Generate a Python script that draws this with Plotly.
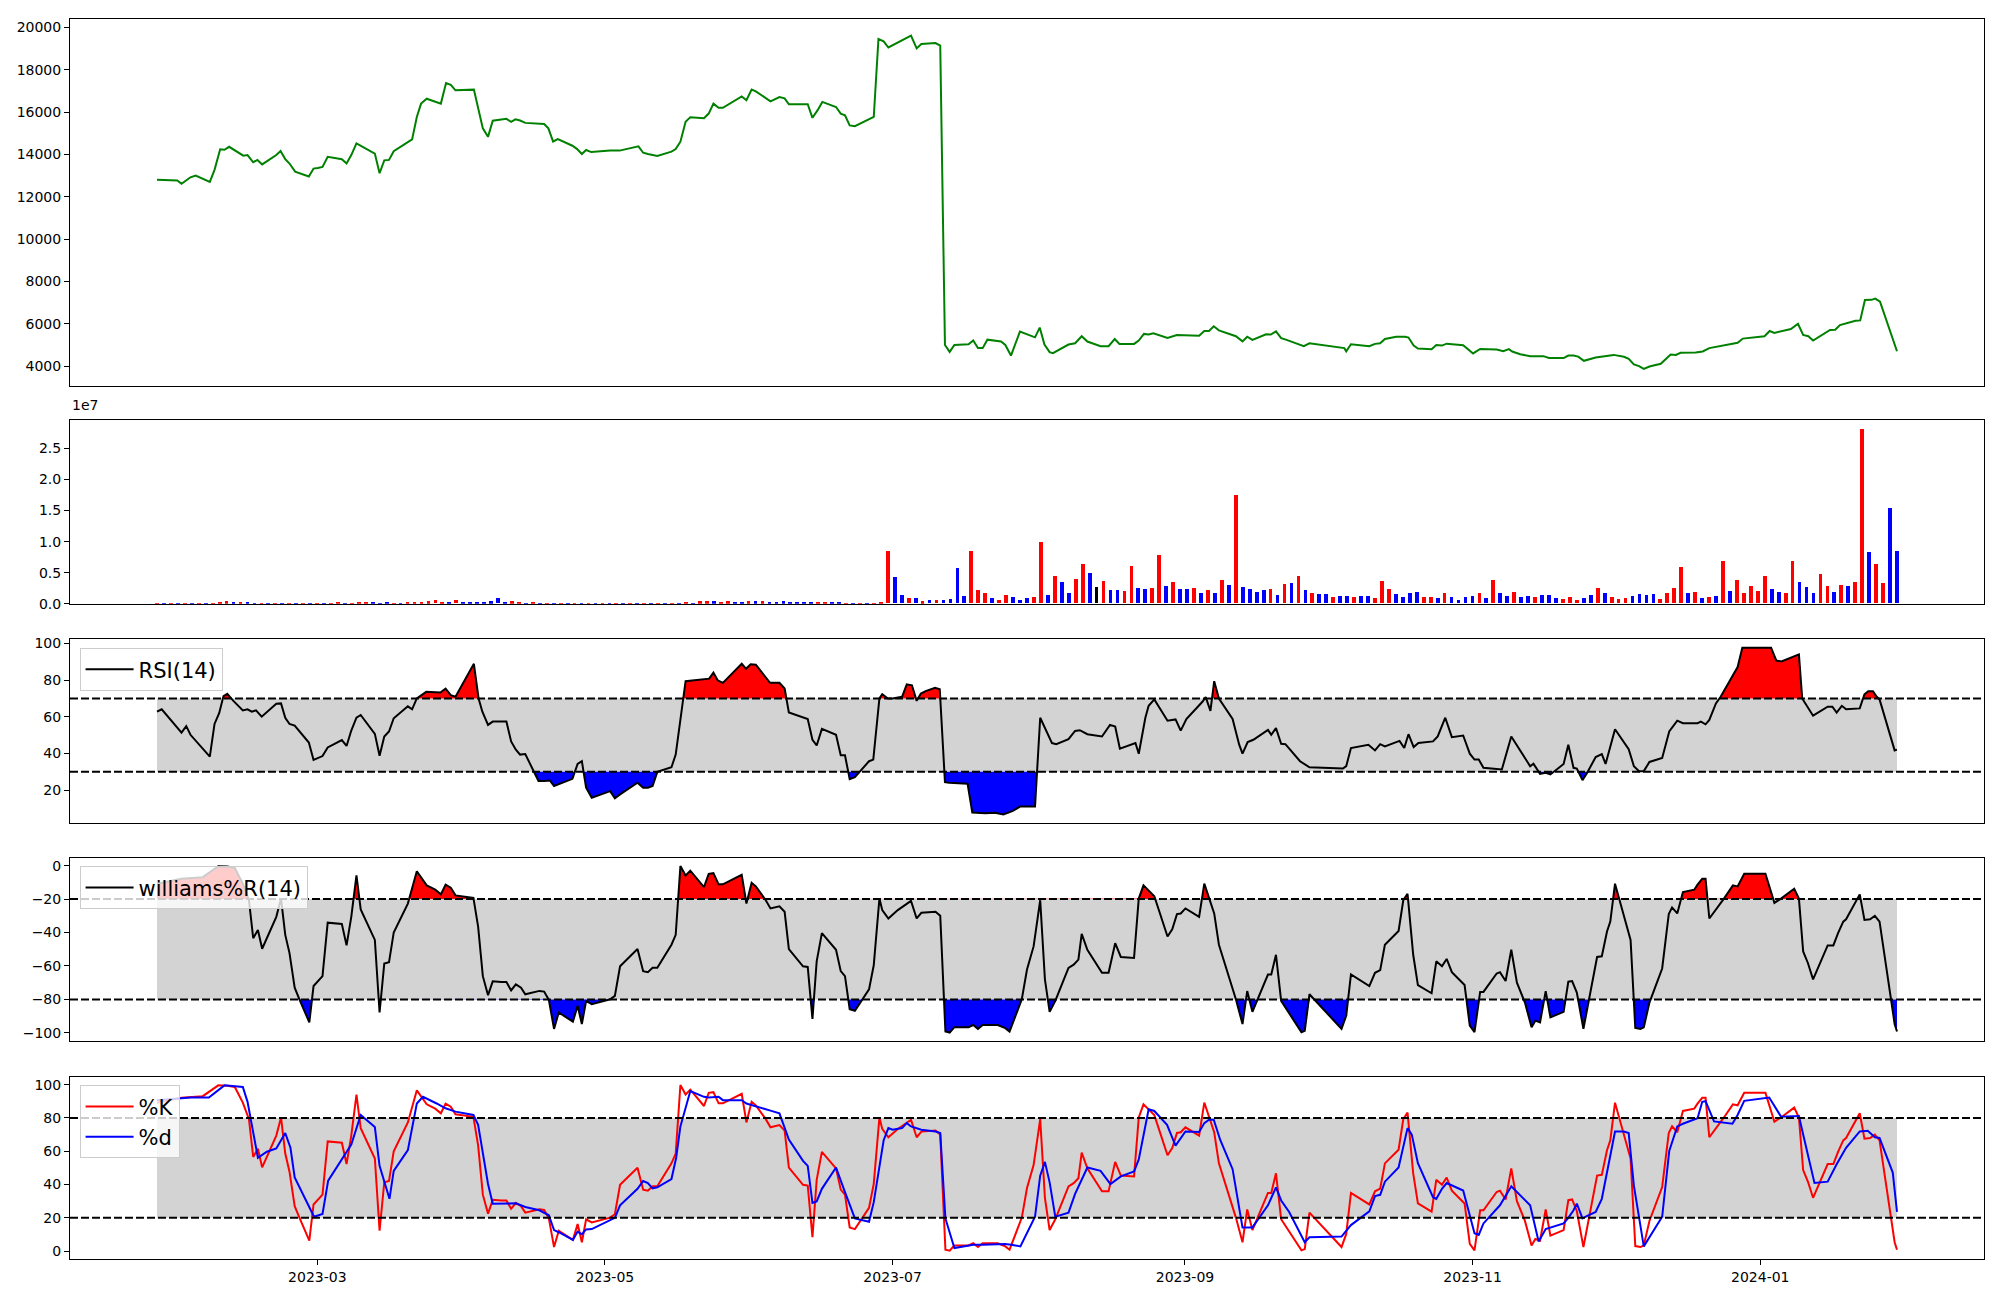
import numpy as np
import pandas as pd
import plotly.graph_objects as go
from plotly.subplots import make_subplots

# ---------------- DATA ----------------
START = "2023-01-26"
END = "2024-01-30"

# price (days since START, close)
price_days = [0.0, 4.3, 5.2, 7.1, 8.2, 11.2, 12.2, 13.4, 14.3, 15.3, 18.3, 19.2, 20.4, 21.3, 22.3, 25.3, 26.2, 27.2, 28.1, 29.3,
              32.2, 33.2, 34.1, 35.1, 36.2, 39.2, 40.2, 41.2, 42.3, 46.2, 47.2, 48.2, 49.2, 50.2, 54.1, 55.1, 56.0, 57.2, 60.2, 61.3,
              62.3, 63.3, 67.2, 68.1, 69.1, 70.2, 71.2, 74.1, 75.1, 76.0, 77.0, 78.1, 82.1, 83.0, 84.0, 85.0, 86.0, 88.1, 89.1, 90.1,
              91.0, 92.1, 96.1, 98.1, 102.1, 103.1, 104.1, 106.1, 109.1, 110.0, 111.0, 112.1, 113.1, 116.0, 117.0, 118.0, 119.1, 120.0, 124.0, 125.0,
              126.1, 127.0, 130.1, 132.0, 133.1, 134.0, 138.0, 139.0, 140.1, 141.1, 144.0, 145.0, 145.9, 146.9, 148.0, 152.0, 153.0, 154.1, 155.1, 159.9,
              161.1, 162.1, 165.1, 166.1, 167.1, 168.1, 169.1, 172.1, 173.1, 174.1, 175.1, 176.1, 179.0, 179.9, 181.1, 183.0, 186.2, 187.2, 188.2, 189.3,
              190.0, 193.3, 194.7, 196.1, 197.3, 200.1, 201.8, 203.1, 204.1, 207.2, 208.2, 209.3, 210.3, 211.3, 214.3, 216.3, 221.0, 222.1, 223.1, 224.1,
              225.2, 228.8, 230.2, 231.2, 232.3, 235.2, 236.2, 237.3, 238.4, 239.4, 243.2, 244.4, 251.8, 252.2, 253.2, 257.1, 258.3, 259.4, 260.4, 262.8,
              264.7, 265.4, 266.5, 267.4, 270.3, 271.3, 272.5, 273.5, 277.0, 279.1, 280.6, 284.1, 285.5, 286.7, 287.4, 289.1, 291.2, 294.0, 295.2, 298.3,
              299.3, 300.4, 301.4, 302.6, 305.1, 308.9, 311.1, 312.1, 313.2, 314.3, 315.3, 316.5, 318.9, 320.0, 321.0, 322.1, 323.1, 326.3, 327.8, 329.2,
              334.5, 335.2, 336.3, 340.9, 342.0, 343.0, 346.5, 348.0, 349.1, 350.2, 351.2, 353.6, 354.8, 355.9, 356.9, 360.2, 361.2, 362.2, 363.6, 364.4,
              365.4, 369.0]
price_values = [12800, 12770, 12610, 12920, 13000, 12700, 13270, 14240, 14220, 14360, 13940, 13970, 13630, 13740, 13530, 13970, 14160, 13780, 13570, 13190,
                12960, 13330, 13360, 13410, 13890, 13770, 13570, 13970, 14520, 14040, 13110, 13720, 13740, 14150, 14710, 15770, 16400, 16630, 16400, 17370,
                17290, 17030, 17060, 16240, 15230, 14830, 15590, 15680, 15540, 15660, 15600, 15490, 15440, 15230, 14610, 14720, 14630, 14410, 14250, 14020,
                14210, 14110, 14190, 14180, 14380, 14080, 14020, 13930, 14130, 14250, 14600, 15540, 15760, 15710, 15930, 16400, 16200, 16200, 16740, 16560,
                17060, 16980, 16510, 16710, 16650, 16370, 16370, 15730, 16090, 16480, 16240, 15930, 15850, 15370, 15330, 15770, 19450, 19340, 19050, 19610,
                19010, 19220, 19260, 19140, 5000, 4670, 5000, 5030, 5210, 4850, 4850, 5250, 5160, 5000, 4500, 5630, 5360, 5820, 5020, 4660,
                4610, 5020, 5080, 5410, 5160, 4940, 4940, 5280, 5050, 5050, 5210, 5520, 5490, 5550, 5330, 5470, 5440, 5660, 5660, 5880,
                5690, 5410, 5170, 5390, 5240, 5500, 5490, 5640, 5320, 5250, 4940, 5080, 4850, 4700, 5030, 4940, 5050, 5080, 5280, 5390,
                5390, 5350, 4970, 4830, 4800, 5000, 4970, 5060, 4990, 4600, 4810, 4780, 4700, 4800, 4690, 4560, 4470, 4470, 4380, 4380,
                4500, 4500, 4450, 4250, 4410, 4530, 4440, 4340, 4080, 4000, 3870, 3980, 4110, 4340, 4550, 4530, 4630, 4640, 4690, 4850,
                5100, 5100, 5300, 5410, 5660, 5570, 5750, 6000, 5470, 5410, 5210, 5570, 5710, 5720, 5940, 6140, 6160, 7120, 7130, 7190,
                7040, 4700]

# volume per session (millions of shares) and price direction (1 up, -1 down, 0 flat)
volume_millions = [
    0.01, 0.01, 0.01, 0.02, 0.01, 0.01, 0.01, 0.01, 0.02,
    0.16, 0.32, 0.16, 0.16, 0.16,
    0.01, 0.01, 0.02, 0.01, 0.01, 0.01, 0.02, 0.01, 0.01, 0.02, 0.01, 0.02,
    0.16, 0.02, 0.02, 0.16, 0.16, 0.16, 0.02, 0.16, 0.02, 0.02,
    0.16, 0.16, 0.16, 0.32, 0.48, 0.16, 0.16, 0.48, 0.16, 0.16, 0.16, 0.16, 0.32, 0.80, 0.16, 0.32, 0.16,
    0.02, 0.16,
    0.01, 0.01, 0.02, 0.01, 0.01, 0.02, 0.02, 0.01, 0.01, 0.02, 0.02, 0.01, 0.01, 0.02, 0.01, 0.02, 0.02, 0.01, 0.01, 0.02, 0.02,
    0.16, 0.02,
    0.32, 0.32, 0.32, 0.16, 0.32, 0.16, 0.16, 0.32, 0.32, 0.32, 0.16, 0.16, 0.32, 0.16, 0.16, 0.16, 0.16, 0.16, 0.16, 0.16, 0.16,
    0.02, 0.01, 0.02, 0.01, 0.02,
    0.16, 8.36, 4.18, 1.29, 0.80, 0.80, 0.32, 0.48, 0.48,
    0.59, 0.70, 5.68, 1.13, 8.41, 2.14, 1.66, 0.80, 0.48, 1.29, 0.96, 0.48, 0.80, 0.96, 9.86, 1.29, 4.39, 3.38, 1.66, 3.86,
    6.32, 4.88, 2.57, 3.59, 2.09, 2.09, 1.93, 6.00, 2.41, 2.25, 2.41, 7.77, 2.73, 3.38, 2.25, 2.25, 2.41, 1.61, 2.09, 1.61,
    3.70, 2.89, 17.52, 2.57, 2.25, 1.77, 2.09, 2.25, 1.29, 3.05, 3.22, 4.34, 2.09, 1.61, 1.45, 1.45, 0.96, 1.13, 1.13, 0.96,
    1.13, 1.13, 0.80, 3.54, 2.25, 1.45, 0.96, 1.61, 1.77, 0.96, 0.96, 0.80, 1.61, 0.96, 0.59, 0.96, 1.13, 1.61, 0.80, 3.70,
    1.61, 1.13, 1.77, 0.96, 1.13, 0.96, 1.29, 1.29, 0.80, 0.64, 0.96, 0.48, 0.80, 1.29, 2.41, 1.61, 0.96, 0.64, 0.80, 1.13,
    1.45, 1.29, 1.45, 0.64, 1.61, 2.41, 5.79, 1.61, 1.77, 0.80, 0.96, 1.13, 6.75, 1.93, 3.70, 1.61, 2.73, 1.93, 4.34, 2.25,
    1.77, 1.61, 6.75, 3.38, 2.57, 1.61, 4.66, 2.73, 1.77, 2.89, 2.73, 3.38, 28.13, 8.20, 6.27, 3.22, 15.43, 8.36]
volume_direction = [
    1, -1, 1, -1, 1, -1, 1, -1, 1,
    1, 1, -1, 1, -1,
    -1, 1, -1, 1, -1, 1, -1, 1, -1, 1, -1, 1,
    1, -1, 1, 1, 1, -1, -1, -1, 1, -1,
    1, 1, 1, 1, 1, 1, -1, 1, -1, -1, -1, -1, -1, -1, -1, 1, 1,
    -1, 1,
    -1, 1, -1, 1, -1, 1, -1, 1, -1, 1, -1, 1, -1, 1, -1, 1, -1, 1, -1, 1, -1,
    1, -1,
    1, 1, -1, 1, 1, -1, -1, 1, -1, 1, -1, -1, -1, -1, -1, -1, -1, 1, 1, -1, -1,
    1, -1, 1, -1, 1,
    1, 1, -1, -1, 1, -1, 1, -1, 1,
    -1, -1, -1, -1, 1, 1, 1, -1, 1, 1, -1, -1, -1, 1, 1, -1, 1, -1, -1, 1,
    1, -1, 0, 1, -1, -1, 1, 1, -1, -1, 1, 1, -1, 1, -1, -1, 1, -1, 1, -1,
    1, -1, 1, -1, -1, -1, -1, 1, -1, 1, -1, 1, -1, 1, -1, -1, 1, -1, -1, 1,
    -1, -1, 1, 1, 1, -1, -1, -1, -1, 1, 1, -1, 1, -1, -1, -1, -1, 1, -1, 1,
    -1, -1, 1, -1, -1, 1, -1, -1, -1, 1, 1, 1, -1, -1, 1, -1, 1, 1, 1, -1,
    -1, -1, -1, 1, 1, 1, 1, -1, 1, -1, 1, -1, 1, -1, 1, 1, 1, 1, 1, -1,
    -1, 1, 1, -1, -1, -1, 1, 1, -1, 1, -1, 1, 1, -1, 1, 1, -1, -1]

# RSI(14)
rsi_days = [0.0, 1.0, 5.2, 6.2, 7.1, 11.2, 12.2, 13.2, 14.1, 14.9, 16.2, 18.2, 19.2, 20.1, 21.0, 22.2, 25.3, 26.3, 27.2, 28.1,
            29.2, 32.2, 33.2, 35.1, 36.2, 39.2, 40.2, 41.2, 42.3, 43.2, 46.2, 47.2, 48.2, 49.2, 50.2, 53.2, 54.1, 55.1, 57.1, 59.0,
            60.1, 61.2, 62.3, 63.3, 67.2, 68.2, 69.0, 70.2, 71.2, 74.1, 75.1, 76.1, 77.0, 78.1, 80.9, 82.1, 83.3, 84.2, 88.1, 89.2,
            90.1, 91.0, 92.2, 96.1, 97.1, 98.2, 101.9, 103.1, 104.1, 105.1, 106.1, 109.1, 110.0, 112.1, 116.1, 117.1, 118.0, 118.9, 120.0, 124.0,
            124.9, 125.9, 127.0, 130.0, 132.0, 133.1, 134.0, 137.0, 138.0, 139.0, 139.9, 141.0, 144.0, 145.0, 145.9, 146.9, 148.0, 151.0, 151.9, 153.2,
            153.8, 155.0, 156.0, 158.0, 159.0, 160.1, 161.1, 162.0, 163.0, 165.0, 166.0, 167.1, 168.0, 171.9, 172.9, 175.7, 177.7, 179.5, 181.5, 183.0,
            186.2, 187.3, 189.8, 190.7, 193.3, 194.7, 195.7, 197.3, 200.4, 202.1, 203.2, 204.2, 207.5, 208.2, 209.6, 210.3, 211.5, 214.3, 216.0, 217.1,
            218.3, 221.7, 222.4, 223.4, 224.2, 225.2, 228.1, 229.5, 230.2, 231.3, 232.5, 235.6, 236.3, 237.3, 238.4, 239.3, 242.4, 244.4, 251.5, 252.2,
            253.2, 256.9, 258.3, 259.4, 260.4, 263.5, 264.5, 265.4, 266.5, 267.5, 270.6, 271.6, 273.2, 274.6, 277.0, 278.4, 279.4, 280.3, 281.3, 285.2,
            287.2, 291.2, 291.9, 293.3, 294.5, 295.5, 298.3, 299.3, 300.4, 301.1, 302.3, 303.3, 305.1, 306.4, 307.2, 309.2, 312.1, 313.2, 314.3, 315.3,
            316.5, 319.2, 320.7, 322.4, 323.6, 326.7, 327.4, 328.4, 329.2, 330.6, 331.6, 335.2, 336.2, 342.3, 343.4, 344.5, 348.2, 348.9, 351.2, 354.3,
            355.3, 356.2, 357.3, 358.2, 361.1, 362.1, 362.9, 363.9, 364.7, 365.3, 368.5, 369.0]
rsi_values = [62.8, 64.1, 51.4, 54.9, 50.2, 38.3, 56.1, 62.1, 71.3, 72.5, 68.7, 63.5, 64.1, 62.8, 63.5, 60.1, 67.1, 67.3, 59.5, 56.1,
              55.2, 46.0, 36.5, 38.6, 43.3, 47.3, 44.1, 52.5, 59.5, 61.0, 50.7, 38.8, 49.3, 52.0, 59.2, 65.7, 64.1, 70.0, 73.6, 73.6,
              73.2, 75.4, 71.8, 70.9, 88.9, 70.0, 62.8, 55.6, 57.4, 57.4, 46.6, 42.1, 39.4, 39.7, 25.0, 25.0, 25.3, 22.3, 26.2, 34.3,
              35.8, 21.4, 15.9, 19.5, 15.6, 17.7, 24.1, 21.4, 21.4, 22.3, 30.0, 32.5, 39.4, 79.4, 80.5, 80.8, 84.1, 79.9, 78.5, 88.9,
              86.2, 88.6, 88.4, 78.5, 78.5, 75.4, 62.4, 59.5, 58.8, 47.5, 44.4, 53.4, 50.2, 39.0, 39.0, 26.0, 27.1, 35.8, 36.7, 70.0,
              72.3, 70.0, 70.0, 70.9, 77.7, 77.2, 68.7, 72.7, 74.0, 75.8, 75.0, 24.4, 24.1, 23.5, 7.8, 7.5, 7.7, 6.8, 8.7, 11.1,
              11.1, 59.5, 45.7, 45.1, 47.8, 52.3, 52.7, 50.5, 49.3, 55.6, 54.7, 42.6, 45.7, 39.9, 59.5, 66.0, 69.5, 57.9, 58.6, 52.5,
              58.8, 68.2, 70.7, 63.2, 79.4, 70.0, 58.8, 44.8, 39.9, 46.2, 47.5, 52.9, 50.2, 53.8, 45.3, 45.1, 35.8, 32.5, 31.8, 33.1,
              43.0, 44.8, 41.7, 45.1, 43.9, 46.9, 43.0, 50.5, 43.5, 45.7, 46.6, 49.3, 59.5, 48.9, 49.8, 39.9, 36.7, 36.7, 32.2, 31.3,
              49.3, 33.1, 34.5, 28.9, 29.5, 28.6, 34.3, 44.8, 32.2, 31.8, 25.5, 29.5, 38.1, 39.7, 34.3, 53.2, 42.4, 33.1, 30.4, 30.4,
              35.4, 37.6, 52.0, 57.9, 56.5, 56.5, 57.4, 55.9, 58.3, 67.3, 70.9, 87.1, 97.6, 97.6, 90.7, 90.2, 94.0, 70.0, 60.6, 65.5,
              65.5, 62.3, 66.0, 64.1, 64.6, 72.3, 74.0, 74.0, 70.9, 69.5, 41.7, 42.1]

# Williams %R(14)
wr_days = [0.0, 5.2, 9.7, 13.0, 14.9, 16.5, 18.2, 19.5, 20.4, 21.4,
           22.3, 25.3, 26.3, 27.2, 28.1, 29.2, 30.2, 32.3, 33.2, 35.1,
           36.2, 39.2, 40.2, 41.2, 42.3, 43.2, 46.2, 47.2, 48.2, 49.2,
           50.2, 53.2, 55.1, 57.2, 59.0, 60.2, 61.2, 62.3, 63.3, 66.1,
           67.1, 68.1, 69.1, 70.2, 71.2, 73.0, 74.1, 75.1, 76.1, 77.2,
           78.1, 81.1, 82.1, 83.1, 84.2, 85.2, 88.2, 89.2, 90.1, 91.0,
           92.2, 96.1, 97.1, 98.2, 101.9, 103.1, 104.1, 105.1, 106.1, 109.1,
           110.0, 111.0, 112.1, 113.1, 116.0, 117.0, 118.0, 119.1, 120.0, 124.0,
           125.0, 126.1, 127.0, 129.1, 130.1, 132.0, 133.1, 134.0, 137.0, 138.0,
           139.0, 139.9, 141.0, 144.0, 145.0, 145.9, 146.9, 148.0, 151.0, 152.0,
           153.2, 153.8, 155.1, 157.1, 159.9, 161.1, 162.1, 165.1, 166.1, 167.2,
           168.1, 169.1, 172.1, 173.1, 174.1, 175.1, 178.3, 179.9, 180.8, 183.4,
           184.5, 185.9, 187.3, 188.3, 189.3, 190.5, 193.3, 194.4, 195.4, 196.1,
           197.3, 200.4, 201.8, 203.2, 204.4, 207.2, 208.2, 209.2, 211.5, 214.3,
           215.3, 216.3, 217.1, 218.1, 221.0, 222.1, 223.1, 224.2, 225.2, 228.8,
           230.2, 231.2, 232.3, 235.6, 236.3, 237.3, 238.4, 242.7, 243.4, 244.4,
           251.2, 252.2, 253.2, 257.1, 258.3, 259.4, 260.4, 263.3, 264.3, 265.2,
           266.4, 267.4, 270.3, 271.3, 272.5, 273.5, 274.6, 277.3, 278.4, 279.4,
           280.6, 281.3, 284.1, 284.8, 286.0, 287.2, 288.4, 290.1, 291.5, 292.3,
           293.3, 294.5, 295.5, 298.3, 299.3, 300.1, 301.1, 302.5, 305.4, 306.4,
           307.5, 308.2, 309.2, 312.5, 313.5, 314.6, 315.3, 316.5, 319.2, 320.6,
           321.3, 322.4, 323.6, 326.0, 326.7, 327.7, 328.4, 329.2, 332.3, 334.2,
           335.2, 336.6, 341.1, 343.0, 344.4, 347.2, 348.2, 349.1, 350.1, 351.2,
           354.3, 355.5, 356.5, 357.6, 358.2, 361.1, 362.1, 363.3, 364.3, 365.3,
           368.5, 369.0]
wr_values = [-10.8, -7.9, -6.9, -0.4, -0.6, -1.4, -10.8, -20.7, -43.4, -38.5,
             -49.7, -30.6, -19.7, -41.4, -52.3, -73.0, -79.9, -93.7, -72.0, -66.1,
             -34.1, -34.9, -47.7, -30.6, -5.9, -26.2, -44.4, -87.8, -58.6, -57.8,
             -40.0, -22.7, -3.4, -11.8, -14.4, -17.2, -11.4, -13.2, -17.8, -18.7,
             -19.3, -36.5, -66.1, -77.5, -69.2, -69.6, -69.6, -74.6, -71.0, -73.0,
             -76.9, -74.9, -75.3, -80.3, -97.6, -87.8, -93.3, -83.8, -94.7, -80.9,
             -82.8, -79.9, -77.9, -60.2, -49.9, -63.1, -63.7, -61.1, -61.1, -47.3,
             -41.4, -0.2, -5.9, -3.0, -12.8, -4.9, -4.5, -11.2, -11.2, -5.5,
             -22.7, -10.3, -12.4, -20.7, -25.6, -24.3, -27.6, -49.9, -60.2, -60.6,
             -91.7, -57.2, -40.4, -50.3, -63.1, -66.1, -85.8, -86.8, -74.0, -59.6,
             -19.7, -26.6, -31.6, -26.6, -21.1, -31.6, -28.2, -27.6, -30.0, -99.2,
             -99.8, -96.6, -96.6, -95.3, -97.6, -95.3, -95.3, -97.2, -99.2, -79.9,
             -62.1, -48.3, -20.7, -68.0, -87.4, -80.9, -61.1, -59.2, -56.2, -40.8,
             -50.3, -64.1, -64.1, -46.4, -54.6, -55.2, -19.7, -11.8, -18.3, -42.4,
             -38.1, -29.0, -28.6, -25.6, -30.6, -10.8, -18.7, -28.6, -47.3, -79.9,
             -94.7, -75.0, -87.4, -65.1, -65.1, -53.3, -80.9, -99.6, -98.8, -76.9,
             -97.6, -89.7, -65.1, -72.0, -64.1, -62.5, -47.3, -39.1, -20.7, -16.8,
             -53.3, -71.4, -76.3, -57.2, -60.2, -55.8, -63.7, -71.4, -95.7, -99.6,
             -75.5, -75.5, -64.5, -63.7, -69.0, -50.3, -70.0, -81.9, -96.6, -92.7,
             -93.7, -75.0, -90.7, -87.4, -69.4, -69.0, -75.9, -97.6, -54.6, -54.2,
             -39.4, -33.5, -10.8, -44.4, -97.0, -97.6, -96.6, -81.9, -61.5, -29.0,
             -25.0, -28.6, -15.8, -14.4, -11.4, -7.9, -7.9, -31.6, -19.7, -11.8,
             -12.4, -4.9, -4.9, -22.3, -19.7, -13.8, -19.7, -51.3, -58.2, -68.0,
             -47.7, -47.7, -40.4, -33.5, -32.1, -17.2, -32.5, -32.1, -30.0, -33.5,
             -94.7, -99.2]

# Stochastic %K (same sessions as Williams %R)
stoch_k = [89.2, 92.1, 93.1, 99.6, 99.4, 98.6, 89.2, 79.3, 56.6, 61.5,
           50.3, 69.4, 80.3, 58.6, 47.7, 27.0, 20.1, 6.3, 28.0, 33.9,
           65.9, 65.1, 52.3, 69.4, 94.1, 73.8, 55.6, 12.2, 41.4, 42.2,
           60.0, 77.3, 96.6, 88.2, 85.6, 82.8, 88.6, 86.8, 82.2, 81.3,
           80.7, 63.5, 33.9, 22.5, 30.8, 30.4, 30.4, 25.4, 29.0, 27.0,
           23.1, 25.1, 24.7, 19.7, 2.4, 12.2, 6.7, 16.2, 5.3, 19.1,
           17.2, 20.1, 22.1, 39.8, 50.1, 36.9, 36.3, 38.9, 38.9, 52.7,
           58.6, 99.8, 94.1, 97.0, 87.2, 95.1, 95.5, 88.8, 88.8, 94.5,
           77.3, 89.7, 87.6, 79.3, 74.4, 75.7, 72.4, 50.1, 39.8, 39.4,
           8.3, 42.8, 59.6, 49.7, 36.9, 33.9, 14.2, 13.2, 26.0, 40.4,
           80.3, 73.4, 68.4, 73.4, 78.9, 68.4, 71.8, 72.4, 70.0, 0.8,
           0.2, 3.4, 3.4, 4.7, 2.4, 4.7, 4.7, 2.8, 0.8, 20.1,
           37.9, 51.7, 79.3, 32.0, 12.6, 19.1, 38.9, 40.8, 43.8, 59.2,
           49.7, 35.9, 35.9, 53.6, 45.4, 44.8, 80.3, 88.2, 81.7, 57.6,
           61.9, 71.0, 71.4, 74.4, 69.4, 89.2, 81.3, 71.4, 52.7, 20.1,
           5.3, 25.0, 12.6, 34.9, 34.9, 46.7, 19.1, 0.4, 1.2, 23.1,
           2.4, 10.3, 34.9, 28.0, 35.9, 37.5, 52.7, 60.9, 79.3, 83.2,
           46.7, 28.6, 23.7, 42.8, 39.8, 44.2, 36.3, 28.6, 4.3, 0.4,
           24.5, 24.5, 35.5, 36.3, 31.0, 49.7, 30.0, 18.1, 3.4, 7.3,
           6.3, 25.0, 9.3, 12.6, 30.6, 31.0, 24.1, 2.4, 45.4, 45.8,
           60.6, 66.5, 89.2, 55.6, 3.0, 2.4, 3.4, 18.1, 38.5, 71.0,
           75.0, 71.4, 84.2, 85.6, 88.6, 92.1, 92.1, 68.4, 80.3, 88.2,
           87.6, 95.1, 95.1, 77.7, 80.3, 86.2, 80.3, 48.7, 41.8, 32.0,
           52.3, 52.3, 59.6, 66.5, 67.9, 82.8, 67.5, 67.9, 70.0, 66.5,
           5.3, 0.8]

# Stochastic %D
stoch_d_days = [0.0, 7.1, 11.0, 14.3, 18.2, 19.2, 21.4, 23.3, 25.3, 27.2, 28.3, 29.2, 33.3, 35.1, 36.3, 39.2, 41.2, 43.2, 46.2, 47.2,
                49.3, 50.2, 53.2, 55.1, 56.4, 59.3, 61.2, 63.3, 67.1, 68.1, 70.2, 71.2, 74.1, 76.1, 78.1, 81.1, 83.1, 84.2, 85.2, 88.2,
                89.2, 90.1, 91.0, 92.2, 97.1, 98.2, 101.9, 103.1, 104.1, 105.1, 106.1, 109.1, 110.1, 111.0, 113.1, 116.0, 117.0, 119.1, 120.0, 124.0,
                125.0, 127.0, 130.1, 132.0, 134.0, 137.0, 138.0, 139.0, 139.9, 141.0, 144.0, 145.9, 148.0, 151.0, 152.0, 154.1, 155.1, 156.0, 158.0, 159.0,
                159.9, 162.1, 165.1, 166.1, 167.2, 169.1, 173.1, 175.1, 179.8, 181.2, 183.1, 186.2, 187.3, 188.3, 189.3, 190.5, 193.3, 194.7, 196.1, 197.3,
                200.1, 202.2, 204.4, 207.2, 208.2, 210.3, 211.5, 214.2, 216.0, 218.1, 221.0, 222.1, 223.1, 224.1, 225.5, 228.1, 230.2, 232.3, 235.6, 237.3,
                238.4, 240.1, 243.4, 244.4, 251.2, 253.2, 257.1, 258.3, 259.4, 260.4, 263.3, 265.2, 266.1, 267.4, 270.6, 271.3, 272.5, 273.5, 277.0, 279.4,
                280.3, 281.3, 284.8, 287.2, 291.2, 293.0, 294.5, 298.3, 299.3, 300.4, 301.1, 302.3, 303.3, 305.1, 306.4, 308.2, 309.2, 311.1, 312.1, 313.2,
                315.3, 319.2, 320.7, 322.4, 323.6, 326.7, 327.7, 328.4, 330.2, 334.1, 335.2, 336.6, 341.9, 344.4, 348.2, 349.1, 351.5, 354.3, 356.2, 358.2,
                361.1, 362.8, 364.3, 365.3, 368.1, 369.0]
stoch_d = [90.7, 92.3, 92.3, 99.6, 98.6, 89.7, 56.1, 59.7, 61.7, 70.9, 62.1, 44.3, 20.6, 22.3, 42.3, 55.1, 64.0, 81.8, 74.5, 51.2,
           31.4, 48.2, 60.7, 88.7, 92.7, 88.7, 85.8, 83.8, 81.8, 75.9, 40.3, 28.5, 28.5, 28.7, 26.5, 24.5, 21.5, 12.6, 11.3, 6.7,
           11.7, 10.1, 13.0, 13.2, 20.0, 27.5, 37.4, 42.1, 40.9, 37.7, 38.3, 43.3, 56.1, 74.9, 96.2, 92.7, 92.3, 92.7, 90.7, 90.7,
           88.7, 87.2, 84.4, 82.8, 67.0, 54.2, 51.2, 28.9, 29.8, 37.4, 50.2, 35.4, 19.6, 17.6, 29.4, 66.6, 73.9, 72.9, 73.9, 76.9,
           74.9, 72.9, 71.9, 70.9, 19.6, 1.8, 3.8, 3.8, 4.3, 3.8, 2.8, 20.6, 45.3, 53.6, 41.3, 20.6, 23.1, 34.4, 43.3, 50.2,
           48.2, 40.3, 44.9, 47.8, 55.1, 85.2, 84.2, 75.9, 63.4, 71.9, 71.5, 76.9, 78.9, 78.9, 66.6, 49.2, 14.2, 14.2, 27.5, 38.3,
           30.4, 23.5, 5.3, 8.3, 8.7, 15.6, 23.9, 33.0, 33.8, 41.7, 50.2, 73.9, 70.0, 52.8, 32.4, 31.4, 37.4, 40.9, 36.4, 10.7,
           9.7, 16.6, 27.5, 38.9, 27.5, 5.7, 13.2, 16.6, 20.0, 24.5, 28.5, 19.6, 21.1, 23.5, 31.4, 56.7, 71.9, 71.9, 70.9, 39.3,
           2.8, 20.6, 60.1, 74.9, 76.5, 79.8, 89.7, 90.1, 77.9, 76.5, 81.8, 90.3, 92.3, 80.8, 81.2, 70.0, 40.9, 41.7, 52.2, 62.1,
           71.9, 72.3, 68.4, 68.0, 47.2, 23.5]

x_tick_labels = ["2023-03", "2023-05", "2023-07", "2023-09", "2023-11", "2024-01"]
rsi_levels = (30, 70)
wr_levels = (-80, -20)
stoch_levels = (20, 80)

# ---------------- HELPERS ----------------
t0 = pd.Timestamp(START)
t1 = pd.Timestamp(END)


def to_dates(days):
    return t0 + pd.to_timedelta(np.asarray(days, dtype=float), unit="D")


def pair(a, b):
    n = min(len(a), len(b))
    return list(a[:n]), list(b[:n])


def threshold_polygon(days, vals, thr, above):
    xs, ys = [days[0]], [vals[0]]
    for i in range(1, len(days)):
        a, b = vals[i - 1] - thr, vals[i] - thr
        if a * b < 0:
            t = a / (a - b)
            xs.append(days[i - 1] + t * (days[i] - days[i - 1]))
            ys.append(thr)
        xs.append(days[i])
        ys.append(vals[i])
    ys = np.maximum(ys, thr) if above else np.minimum(ys, thr)
    px = list(xs) + list(xs[::-1])
    py = list(ys) + [thr] * len(xs)
    return to_dates(px), py


def band_trace(days, lo, hi):
    d0, d1 = days[0], days[-1]
    return go.Scatter(x=to_dates([d0, d1, d1, d0]), y=[lo, lo, hi, hi], fill="toself",
                      fillcolor="#d3d3d3", line=dict(width=0), mode="lines",
                      hoverinfo="skip", showlegend=False)


def poly_trace(px, py, color):
    return go.Scatter(x=px, y=py, fill="toself", fillcolor=color, line=dict(width=0),
                      mode="lines", hoverinfo="skip", showlegend=False)


# ---------------- FIGURE ----------------
fig = make_subplots(rows=5, cols=1, shared_xaxes=True, vertical_spacing=0.028,
                    row_heights=[2, 1, 1, 1, 1])

# price
pd_, pv_ = pair(price_days, price_values)
fig.add_trace(go.Scatter(x=to_dates(pd_), y=pv_, mode="lines",
                         line=dict(color="green", width=2), showlegend=False), row=1, col=1)

# volume
vol_dates = pd.date_range(t0, t1, periods=len(volume_millions))
dir_colors = {1: "red", -1: "blue", 0: "black"}
vcols = [dir_colors[volume_direction[i]] if i < len(volume_direction) else "red"
         for i in range(len(volume_millions))]
vol = np.array(volume_millions) * 1e6
fig.add_trace(go.Bar(x=vol_dates, y=vol, marker=dict(color=vcols, line=dict(width=0)),
                     width=0.8 * 86400000, showlegend=False), row=2, col=1)

# RSI
rd, rv = pair(rsi_days, rsi_values)
fig.add_trace(band_trace(rd, *rsi_levels), row=3, col=1)
px, py = threshold_polygon(rd, rv, rsi_levels[1], True)
fig.add_trace(poly_trace(px, py, "red"), row=3, col=1)
px, py = threshold_polygon(rd, rv, rsi_levels[0], False)
fig.add_trace(poly_trace(px, py, "blue"), row=3, col=1)
fig.add_trace(go.Scatter(x=to_dates(rd), y=rv, mode="lines", line=dict(color="black", width=2),
                         name="RSI(14)", legend="legend"), row=3, col=1)

# Williams %R
wd, wv = pair(wr_days, wr_values)
fig.add_trace(band_trace(wd, *wr_levels), row=4, col=1)
px, py = threshold_polygon(wd, wv, wr_levels[1], True)
fig.add_trace(poly_trace(px, py, "red"), row=4, col=1)
px, py = threshold_polygon(wd, wv, wr_levels[0], False)
fig.add_trace(poly_trace(px, py, "blue"), row=4, col=1)
fig.add_trace(go.Scatter(x=to_dates(wd), y=wv, mode="lines", line=dict(color="black", width=2),
                         name="williams%R(14)", legend="legend2"), row=4, col=1)

# Stochastic
kd, kv = pair(wr_days, stoch_k)
dd, dv = pair(stoch_d_days, stoch_d)
fig.add_trace(band_trace(kd, *stoch_levels), row=5, col=1)
fig.add_trace(go.Scatter(x=to_dates(kd), y=kv, mode="lines", line=dict(color="red", width=2),
                         name="%K", legend="legend3"), row=5, col=1)
fig.add_trace(go.Scatter(x=to_dates(dd), y=dv, mode="lines", line=dict(color="blue", width=2),
                         name="%d", legend="legend3"), row=5, col=1)

# dashed threshold lines
for row, levels in ((3, rsi_levels), (4, wr_levels), (5, stoch_levels)):
    for lv in levels:
        fig.add_hline(y=lv, line=dict(color="black", width=2, dash="8px,3px"), row=row, col=1)

# ---------------- LAYOUT ----------------
# the page body has an 8px margin, so the figure is sized/offset to fit the window
OFF = 8
W, H = 1984, 1284
ML, MR, MT, MB = 62, 7, 7, 32
PH = H - MT - MB


def dom(top_px, bot_px):
    plot_bottom = OFF + H - MB
    return [max(0.0, (plot_bottom - bot_px) / PH), min(1.0, (plot_bottom - top_px) / PH)]


domains = [dom(15, 383), dom(418, 602), dom(638, 822), dom(857, 1041), dom(1077, 1260)]

span = (t1 - t0)
xr = [t0 - span * 0.05, t1 + span * 0.05]

font = dict(family="DejaVu Sans", size=14, color="black")
axis_common = dict(showline=True, linecolor="black", linewidth=1, mirror=True, showgrid=False,
                   zeroline=False, tickfont=font)

layout = dict(width=W, height=H, margin=dict(l=ML, r=MR, t=MT, b=MB),
              plot_bgcolor="white", paper_bgcolor="white", font=font, bargap=0,
              hovermode=False)
fig.update_layout(**layout)

for i in range(5):
    xa = "xaxis" if i == 0 else f"xaxis{i + 1}"
    ya = "yaxis" if i == 0 else f"yaxis{i + 1}"
    fig.layout[ya].update(domain=domains[i], ticks="outside", ticklen=5, tickcolor="black", **axis_common)
    fig.layout[xa].update(range=xr, **axis_common)
    if i < 4:
        fig.layout[xa].update(showticklabels=False, ticks="")

tick_dates = [pd.Timestamp(t + "-01") for t in x_tick_labels]
fig.layout.xaxis5.update(tickvals=tick_dates, ticktext=x_tick_labels, ticks="outside", ticklen=5,
                         tickcolor="black", showticklabels=True)


def padded(lo, hi):
    s = hi - lo
    return [lo - 0.05 * s, hi + 0.05 * s]


fig.layout.yaxis.update(range=padded(min(price_values), max(price_values)), dtick=2000, tickformat="d")
vmax = float(vol.max())
fig.layout.yaxis2.update(range=[0, vmax * 1.05],
                         tickvals=[0, 5e6, 1e7, 1.5e7, 2e7, 2.5e7],
                         ticktext=["0.0", "0.5", "1.0", "1.5", "2.0", "2.5"])
fig.layout.yaxis3.update(range=padded(min(rsi_values), max(rsi_values)), tickvals=[20, 40, 60, 80, 100])
fig.layout.yaxis4.update(range=padded(min(wr_values), max(wr_values)),
                         tickvals=[0, -20, -40, -60, -80, -100],
                         ticktext=["0", "\u221220", "\u221240", "\u221260", "\u221280", "\u2212100"])
fig.layout.yaxis5.update(range=padded(min(stoch_k + stoch_d), max(stoch_k + stoch_d)),
                         tickvals=[0, 20, 40, 60, 80, 100])

leg_style = dict(bgcolor="rgba(255,255,255,0.8)", bordercolor="#cccccc", borderwidth=1,
                 font=dict(family="DejaVu Sans", size=21, color="black"),
                 xanchor="left", yanchor="top", x=0.005, tracegroupgap=2, itemwidth=48)
fig.update_layout(legend=dict(y=domains[2][1] - 0.007, **leg_style),
                  legend2=dict(y=domains[3][1] - 0.007, **leg_style),
                  legend3=dict(y=domains[4][1] - 0.007, **leg_style))

fig.add_annotation(text="1e7", xref="paper", yref="paper", x=0, y=domains[1][1] + 0.004,
                   xanchor="left", yanchor="bottom", showarrow=False,
                   font=dict(family="DejaVu Sans", size=14, color="black"))

fig.write_html("out.html")
